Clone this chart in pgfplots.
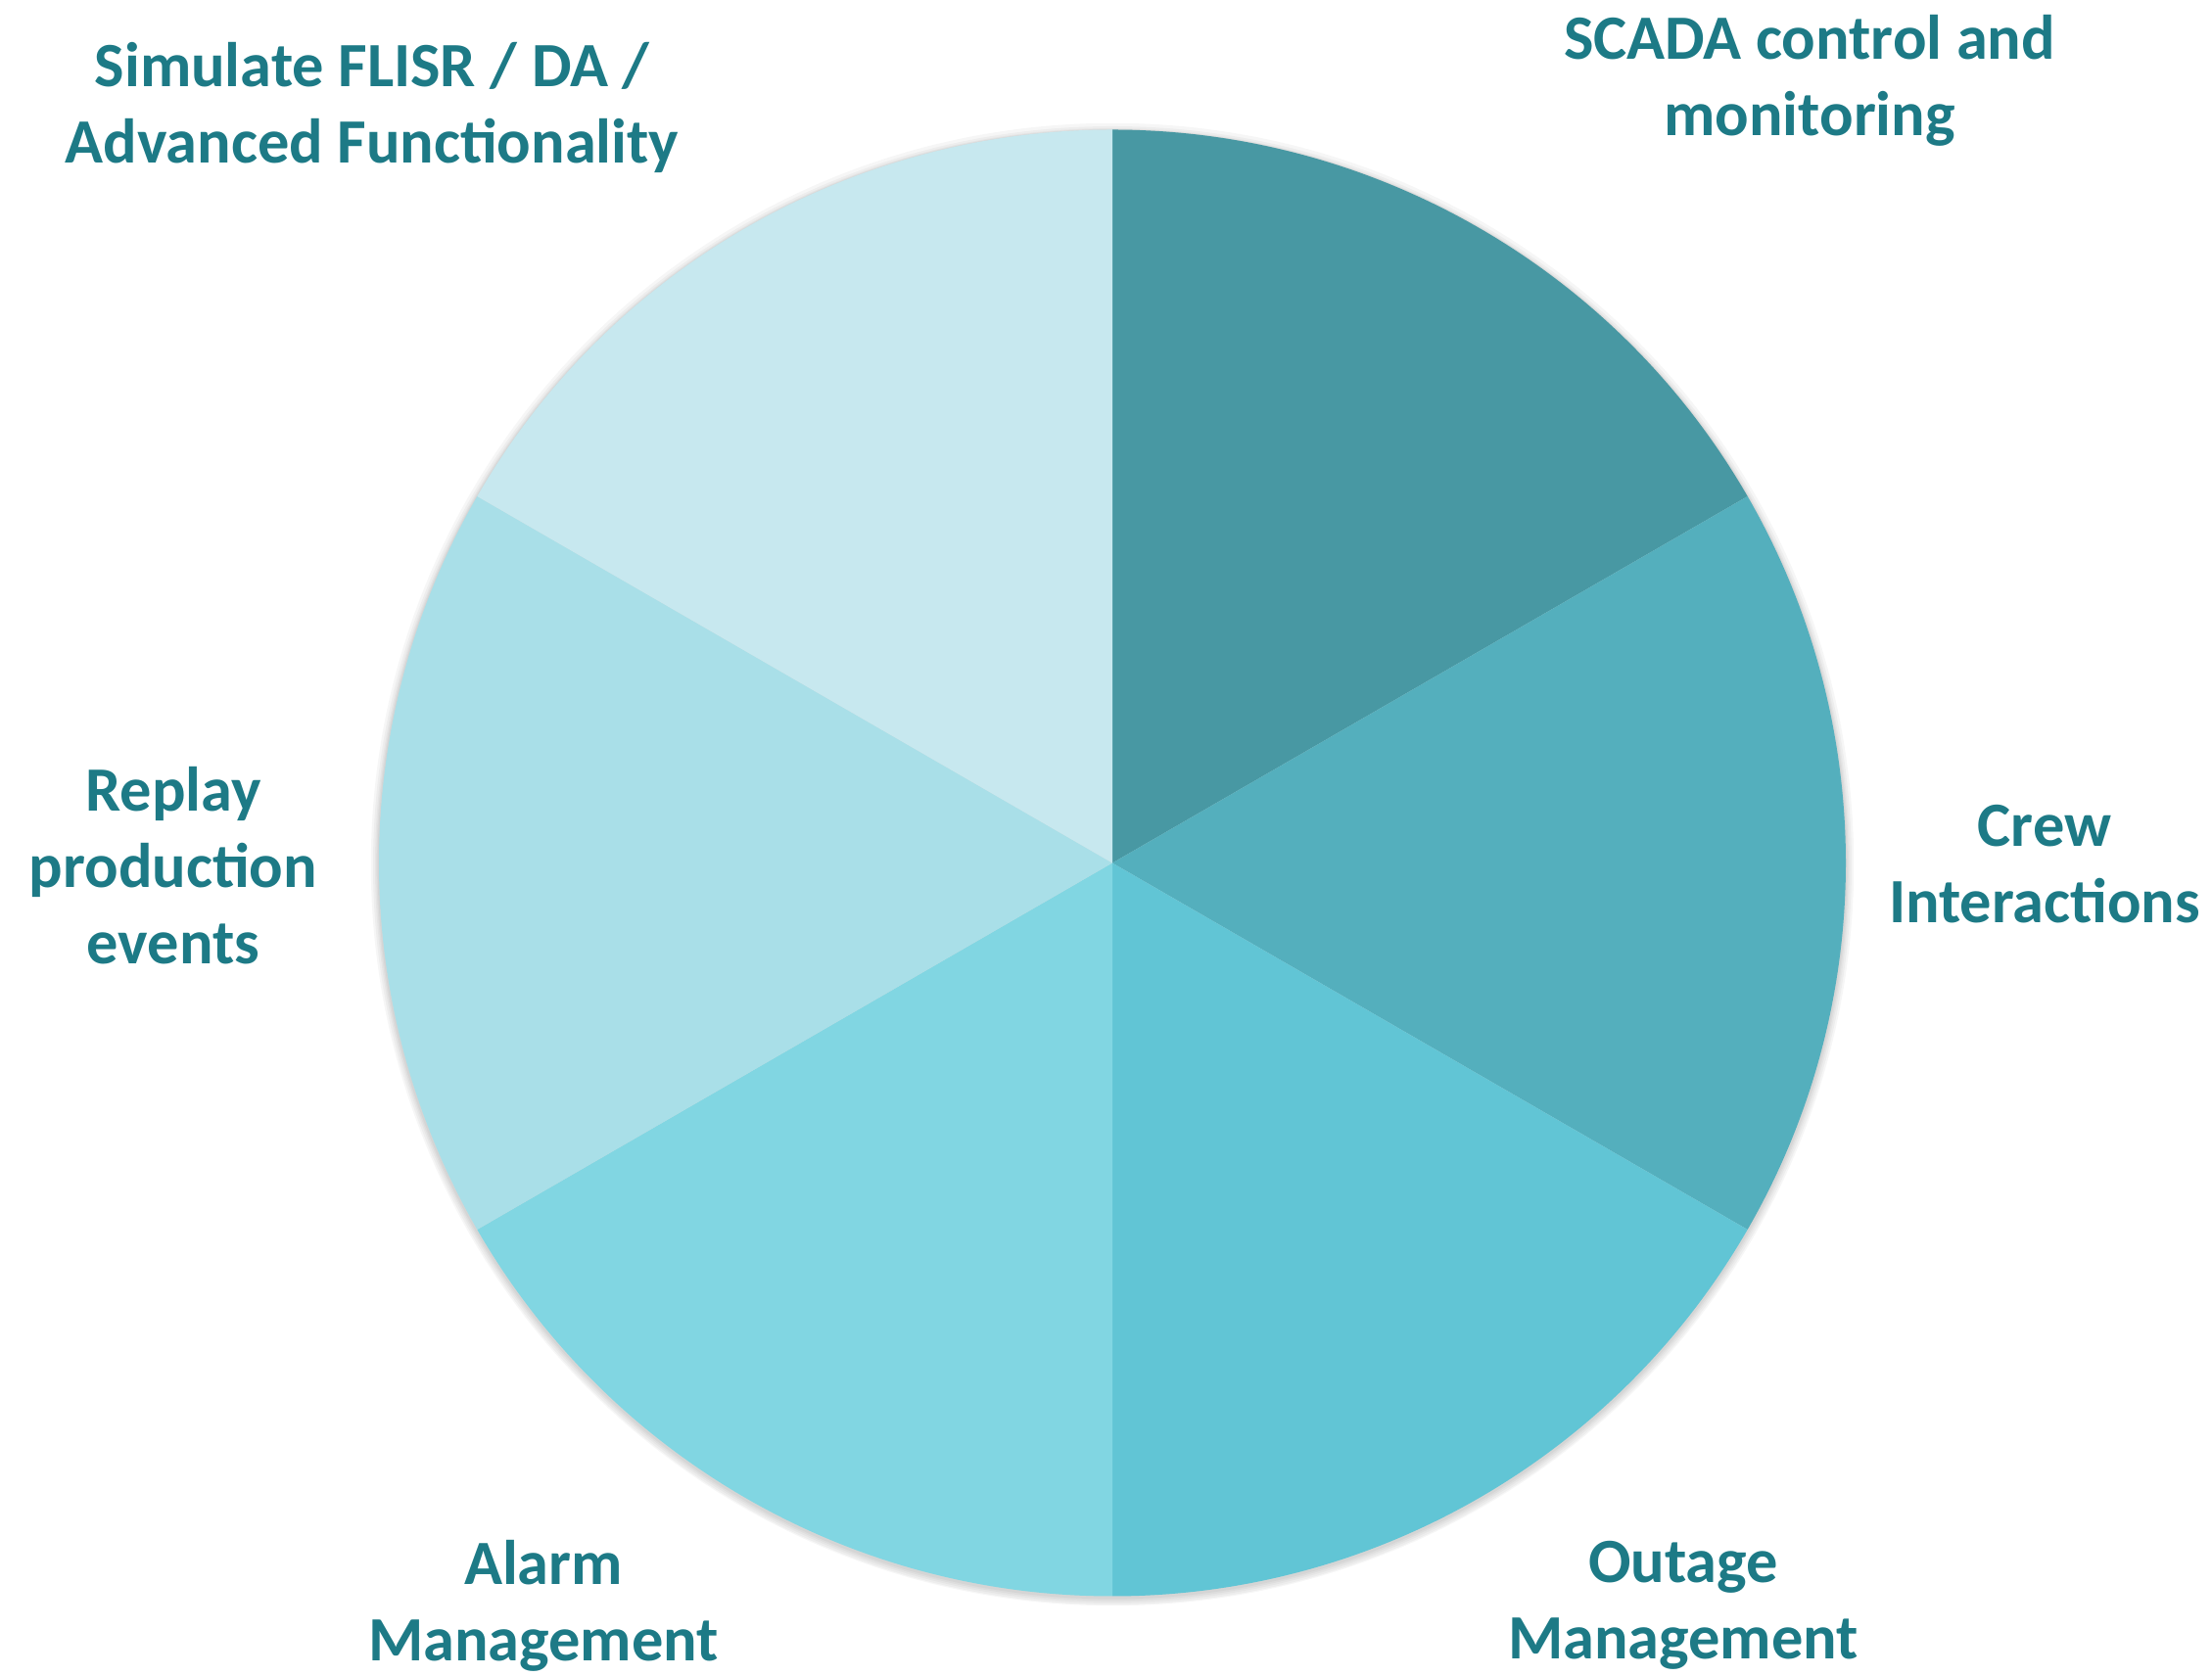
\documentclass[border=0pt]{standalone}
\usepackage{fontspec}
\setmainfont{Carlito}
\usepackage{pgfplots}
\pgfplotsset{compat=1.18}
\definecolor{cA}{HTML}{4898A3}
\definecolor{cB}{HTML}{54AFBD}
\definecolor{cC}{HTML}{61C5D5}
\definecolor{cD}{HTML}{81D6E2}
\definecolor{cE}{HTML}{A9DFE8}
\definecolor{cF}{HTML}{C7E8EF}
\definecolor{lab}{HTML}{1D7A86}
\tikzset{lbl/.style={text=lab, align=center, inner sep=0pt, font=\fontsize{16.1}{19.5}\selectfont\bfseries}}
% pie values (equal shares)
\def\vA{1}\def\vB{1}\def\vC{1}\def\vD{1}\def\vE{1}\def\vF{1}
\pgfmathsetmacro\total{\vA+\vB+\vC+\vD+\vE+\vF}
\def\cx{1136}\def\cy{830.5}\def\R{187.25pt}
\gdef\curang{90}
\newcommand\slice[2]{%
  \pgfmathsetmacro\endang{\curang-360*#2/\total}%
  \pgfmathsetmacro\sx{\cx+749*cos(\curang)}%
  \pgfmathsetmacro\sy{\cy+749*sin(\curang)}%
  \edef\temp{\noexpand\fill[#1] (axis cs:\cx,\cy) -- (axis cs:\sx,\sy) arc[start angle=\curang,end angle=\endang,radius=\R] -- cycle;}%
  \temp
  \global\let\curang\endang}
\begin{document}
\begin{tikzpicture}
\begin{axis}[
  scale only axis, width=564.75pt, height=428pt,
  xmin=0, xmax=2259, ymin=0, ymax=1712,
  hide axis, clip=false,
]
\path (axis cs:0,0) rectangle (axis cs:2259,1712);
% soft shadow
\fill[black,opacity=0.035] (axis cs:\cx,828) circle[radius=188.75pt];
\fill[black,opacity=0.035] (axis cs:\cx,828) circle[radius=188.25pt];
\fill[black,opacity=0.035] (axis cs:\cx,828.5) circle[radius=187.9pt];
\fill[black,opacity=0.035] (axis cs:\cx,829) circle[radius=187.6pt];
\fill[black,opacity=0.035] (axis cs:\cx,829) circle[radius=189.3pt];
\slice{cA}{\vA}
\slice{cB}{\vB}
\slice{cC}{\vC}
\slice{cD}{\vD}
\slice{cE}{\vE}
\slice{cF}{\vF}
\node[lbl] at (axis cs:1848,1630) {SCADA control and\\monitoring};
\node[lbl] at (axis cs:380,1602) {Simulate FLISR / DA /\\Advanced Functionality};
\node[lbl] at (axis cs:2088,829) {Crew\\Interactions};
\node[lbl] at (axis cs:177,828) {Replay\\production\\events};
\node[lbl] at (axis cs:555,72) {Alarm\\Management};
\node[lbl] at (axis cs:1719,72) {Outage\\Management};
\end{axis}
\end{tikzpicture}
\end{document}
